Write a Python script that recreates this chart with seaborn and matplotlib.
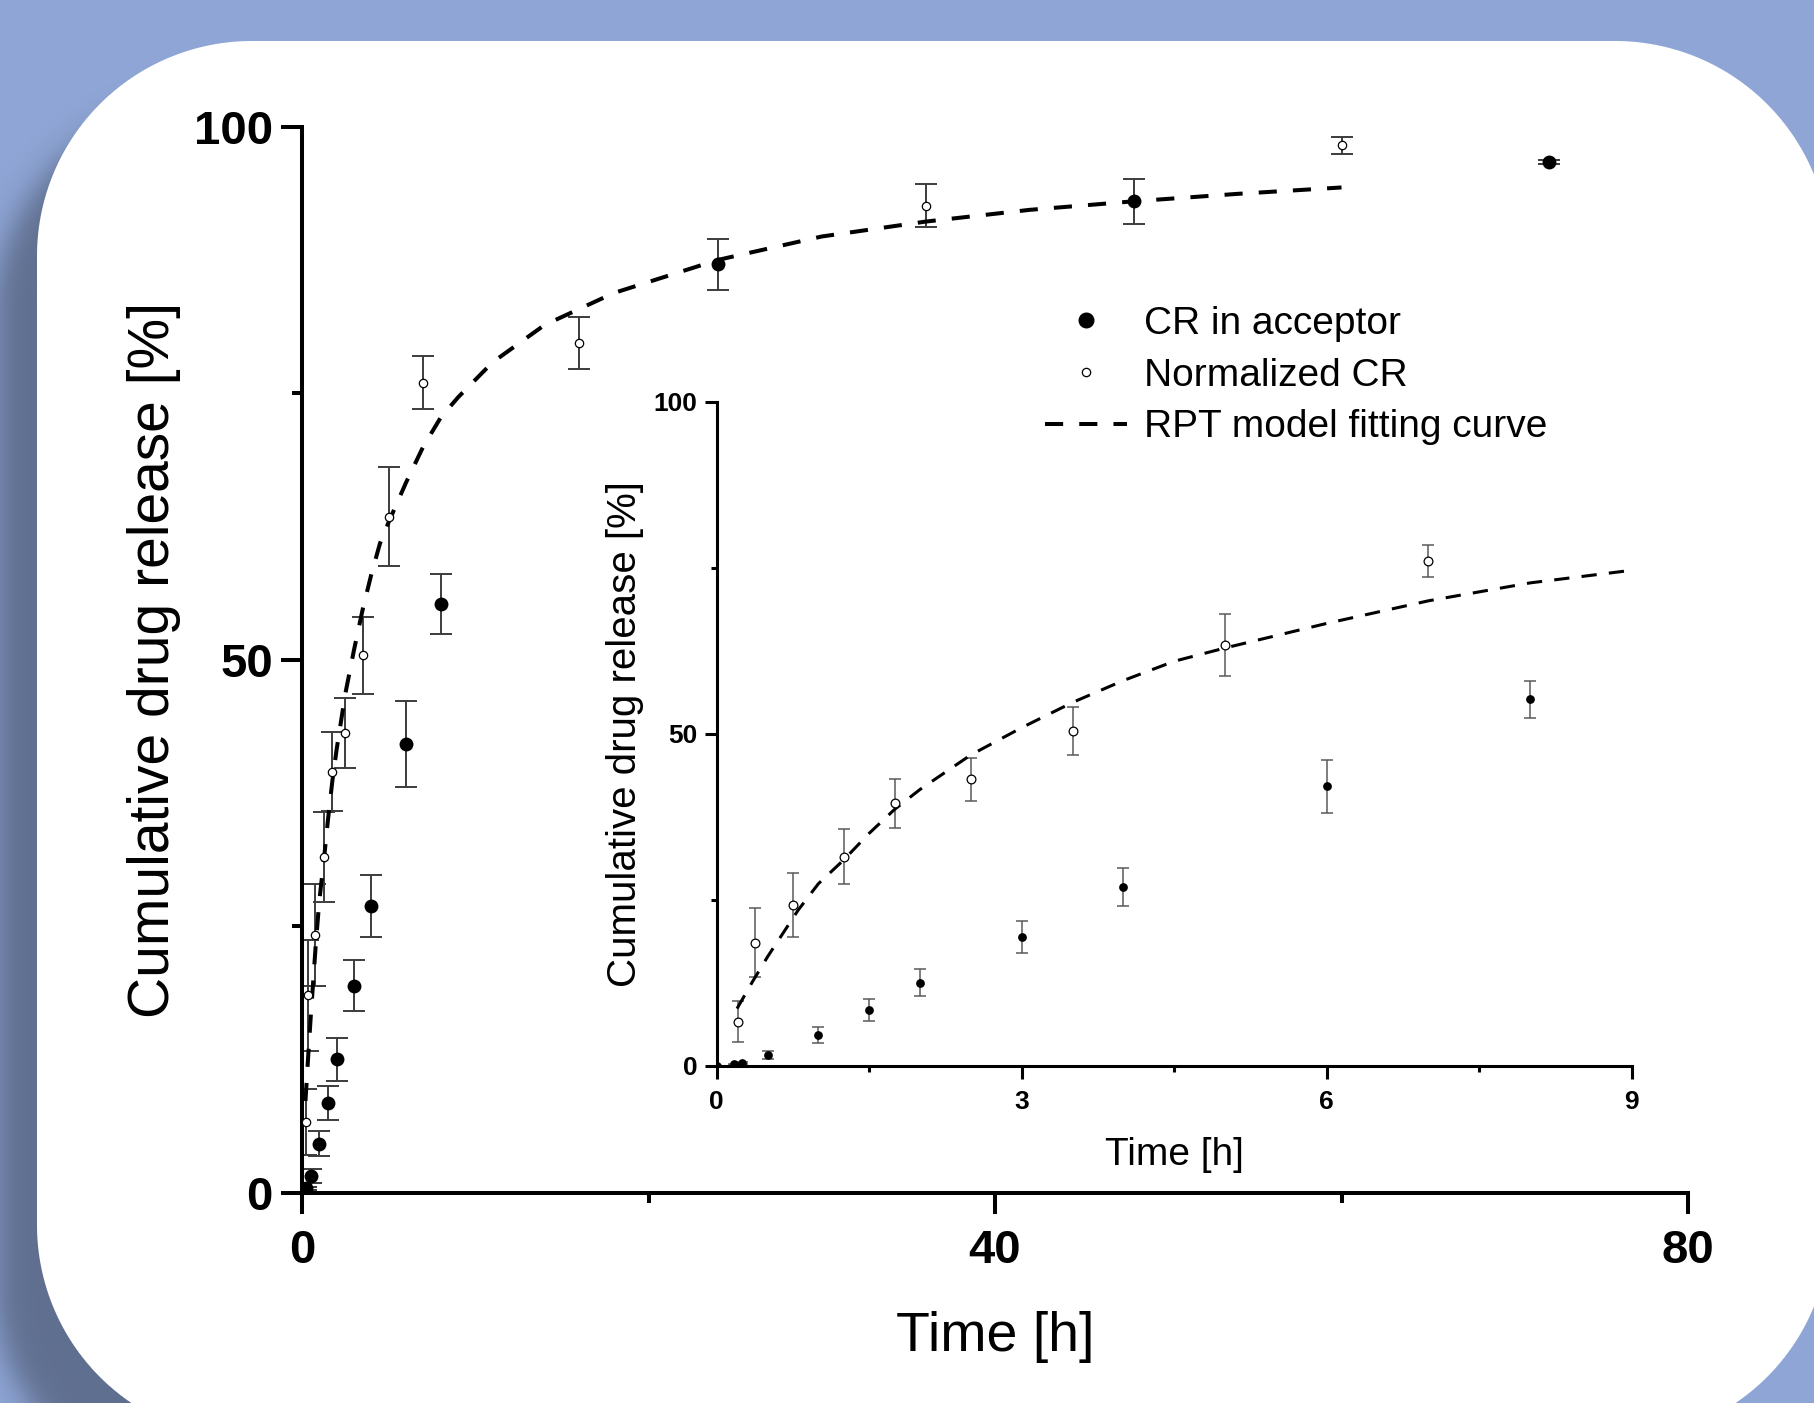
import numpy as np
import matplotlib
matplotlib.use("Agg")
import matplotlib.pyplot as plt
from matplotlib.lines import Line2D
import seaborn as sns

# CR in acceptor (filled points)
time_acc = [0, 0.167, 0.25, 0.5, 1, 1.5, 2, 3, 4, 6, 8, 24, 48, 72]
acc = [0, 0.2, 0.4, 1.6, 4.6, 8.4, 12.5, 19.4, 26.9, 42.1, 55.2, 87.1, 93.0, 96.7]
acc_err = [0, 0.1, 0.15, 0.65, 1.2, 1.6, 2.0, 2.4, 2.9, 4.0, 2.8, 2.4, 2.1, 0.2]

# Normalized CR (open points)
time_norm = [0.208, 0.375, 0.75, 1.25, 1.75, 2.5, 3.5, 5, 7, 16, 36, 60]
norm = [6.6, 18.5, 24.2, 31.5, 39.5, 43.1, 50.4, 63.4, 76.0, 79.7, 92.6, 98.25]
norm_err = [3.1, 5.2, 4.8, 4.2, 3.7, 3.3, 3.6, 4.65, 2.45, 2.45, 2.05, 0.8]

# RPT model fitting curve
fit_t = [0.2, 0.35, 0.5, 0.65, 0.8, 1.0, 1.25, 1.5, 1.75, 2.0, 2.5, 3.0, 3.5, 4.0,
         4.5, 5.0, 6.0, 7.0, 8.0, 9.0, 11, 14, 18, 24, 30, 36, 42, 48, 54, 60]
fit_y = [8.6, 12.6, 16.4, 19.9, 23.4, 27.4, 31.0, 35.0, 38.6, 41.6, 46.8, 50.9, 54.7, 58.0,
         60.9, 62.9, 66.6, 70.0, 72.7, 74.6, 77.9, 81.4, 84.4, 87.5, 89.7, 91.1, 92.2, 93.0, 93.7, 94.3]

labels = ["CR in acceptor", "Normalized CR", "RPT model fitting curve"]

sns.set_theme(style="ticks", rc={"axes.edgecolor": "black", "text.color": "black",
                                 "xtick.color": "black", "ytick.color": "black",
                                 "axes.labelcolor": "black"})
plt.rcParams["font.family"] = ["Liberation Sans", "DejaVu Sans"]

W, H = 1815, 1403
fig = plt.figure(figsize=(W / 100, H / 100), dpi=100)

# background: blue page, soft shadow, white rounded panel
yy, xx = np.mgrid[0:H, 0:W] + 0.5


def rrect_dist(x0, y0, x1, y1, r):
    cx, cy = (x0 + x1) / 2, (y0 + y1) / 2
    qx = np.abs(xx - cx) - ((x1 - x0) / 2 - r)
    qy = np.abs(yy - cy) - ((y1 - y0) / 2 - r)
    out = np.hypot(np.maximum(qx, 0), np.maximum(qy, 0))
    return out + np.minimum(np.maximum(qx, qy), 0) - r


img = np.ones((H, W, 3)) * np.array([143, 166, 214]) / 255
sh = 0.33 / (1 + np.exp(rrect_dist(-5, 101, 1650, 1500, 215) / 9))
img *= (1 - sh)[..., None]
pa = np.clip(0.5 - rrect_dist(37, 41, 1830, 1440, 215), 0, 1)[..., None]
img = img * (1 - pa) + pa

bg = fig.add_axes([0, 0, 1, 1])
bg.imshow(img, extent=(0, W, H, 0), aspect="auto")
bg.axis("off")


def draw(ax, ms_fill, ms_open, lw_fit, dash, err_c, err_lw, cap):
    ax.errorbar(time_acc, acc, yerr=acc_err, fmt="none", ecolor=err_c,
                elinewidth=err_lw, capsize=cap, capthick=err_lw, zorder=2)
    ax.errorbar(time_norm, norm, yerr=norm_err, fmt="none", ecolor=err_c,
                elinewidth=err_lw, capsize=cap, capthick=err_lw, zorder=2)
    sns.lineplot(x=fit_t, y=fit_y, ax=ax, color="black", linewidth=lw_fit,
                 estimator=None, sort=False, zorder=3)
    ax.lines[-1].set_dashes(dash)
    sns.scatterplot(x=time_acc, y=acc, ax=ax, color="black", edgecolor="black",
                    s=ms_fill ** 2, linewidth=0, zorder=4)
    sns.scatterplot(x=time_norm, y=norm, ax=ax, color="white", edgecolor="black",
                    s=ms_open ** 2, linewidth=0.9, zorder=4)
    sns.despine(ax=ax)
    ax.set_facecolor("none")


# main axes
ax = fig.add_axes([302 / W, 1 - 1192.7 / H, 1386 / W, 1066 / H])
draw(ax, 10, 6, 2.9, [4.5, 4], "#3c3c3c", 1.4, 8)
ax.set_xlim(0, 80)
ax.set_ylim(0, 100)
ax.set_xticks([0, 40, 80])
ax.set_xticks([20, 60], minor=True)
ax.set_yticks([0, 50, 100])
ax.set_yticks([25, 75], minor=True)
ax.tick_params(which="major", direction="out", length=15, width=2.9, labelsize=34, pad=6)
ax.tick_params(axis="x", which="major", pad=11)
ax.tick_params(which="minor", direction="out", length=7.5, width=2.9)
plt.setp(ax.get_xticklabels() + ax.get_yticklabels(), fontweight="bold")
for s in ax.spines.values():
    s.set_linewidth(2.9)
ax.set_xlabel("Time [h]", fontsize=40)
ax.set_ylabel("Cumulative drug release [%]", fontsize=41)
ax.xaxis.set_label_coords(0.5, -0.1354)
ax.xaxis.label.set_va("center")
ax.yaxis.set_label_coords(-0.1068, 0.5)
ax.yaxis.label.set_va("center")

handles = [
    Line2D([], [], ls="none", marker="o", ms=10.5, mfc="black", mec="black"),
    Line2D([], [], ls="none", marker="o", ms=6, mfc="white", mec="black", mew=0.9),
    Line2D([], [], color="black", lw=2.9, dashes=[4.5, 4]),
]
ax.legend(handles, labels, loc="upper left", bbox_to_anchor=(1045 / W, 1 - 306 / H),
          bbox_transform=fig.transFigure, frameon=False, fontsize=28, borderpad=0,
          borderaxespad=0, handlelength=2.1, handletextpad=0.45, labelspacing=0.4)

# inset axes
ins = fig.add_axes([716.7 / W, 1 - 1065.7 / H, 915 / W, 664.1 / H])
draw(ins, 6.3, 6.3, 2.2, [5, 4], "#5a5a5a", 1.1, 4.5)
ins.set_xlim(0, 9)
ins.set_ylim(0, 100)
ins.set_xticks([0, 3, 6, 9])
ins.set_xticks([1.5, 4.5, 7.5], minor=True)
ins.set_yticks([0, 50, 100])
ins.set_yticks([25, 75], minor=True)
ins.tick_params(which="major", direction="out", length=9, width=2.2, labelsize=19, pad=5)
ins.tick_params(axis="x", which="major", pad=8.5)
ins.tick_params(which="minor", direction="out", length=4.5, width=2.2)
plt.setp(ins.get_xticklabels() + ins.get_yticklabels(), fontweight="bold")
for s in ins.spines.values():
    s.set_linewidth(2.2)
ins.set_xlabel("Time [h]", fontsize=28)
ins.set_ylabel("Cumulative drug release [%]", fontsize=29)
ins.xaxis.set_label_coords(0.5, -0.1345)
ins.xaxis.label.set_va("center")
ins.yaxis.set_label_coords(-0.1002, 0.5)
ins.yaxis.label.set_va("center")

fig.savefig("out.png", dpi=100)
